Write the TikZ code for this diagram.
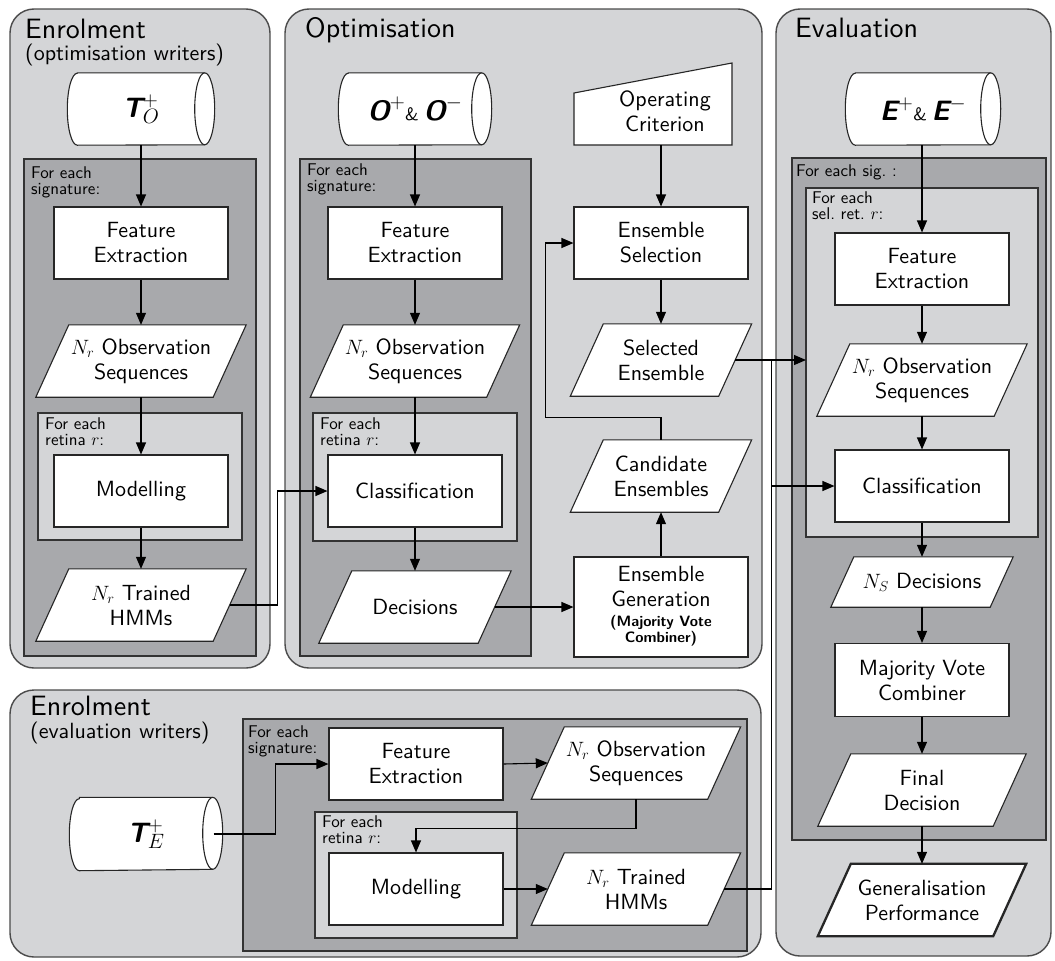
\documentclass[tikz,border=0pt]{standalone}
\usepackage{fontspec}
\setsansfont{lmsans10-regular.otf}[BoldFont=lmsans10-bold.otf, ItalicFont=lmsans10-oblique.otf, BoldItalicFont=lmsans10-boldoblique.otf]
\usetikzlibrary{arrows.meta,calc}
\definecolor{panelgray}{RGB}{212,213,215}
\definecolor{loopgray}{RGB}{168,169,172}
\definecolor{edgegray}{RGB}{75,75,75}
\pgfdeclarelayer{back}
\pgfsetlayers{back,main}
\begin{document}
\begin{tikzpicture}[x=1pt,y=1pt,
  font=\sffamily\fontsize{22}{25}\selectfont,
  stage/.style={rounded corners=24pt, fill=panelgray, draw=edgegray, line width=1.4pt},
  loopdark/.style={fill=loopgray, draw=black!80, line width=1.1pt},
  looplight/.style={fill=panelgray, draw=black!80, line width=1.1pt},
  proc/.style={draw=black!85, fill=white, line width=1.1pt, minimum height=72pt, minimum width=174pt, inner sep=0pt, align=center},
  datum/.style={minimum height=72pt, inner sep=0pt, align=center},
  paraline/.style={draw=black!85, fill=white, line width=1.1pt},
  cyl/.style={minimum height=72pt, inner sep=0pt, font=\sffamily\fontsize{28}{30}\selectfont},
  title/.style={font=\sffamily\fontsize{28}{30}\selectfont, anchor=base west, inner sep=0pt},
  subtitle/.style={font=\sffamily\fontsize{22}{25}\selectfont, anchor=base west, inner sep=0pt},
  looplabel/.style={font=\sffamily\fontsize{17}{16}\selectfont, anchor=north west, inner sep=0pt, align=left},
  flow/.style={line width=1.1pt, -{Triangle[length=12pt,width=10pt]}},
  plain/.style={line width=1.1pt},
]
\useasboundingbox (0,0) rectangle (1055,-961);

% ---------- stages and loops ----------
\begin{pgfonlayer}{back}
  % enrolment (optimisation writers)
  \path[stage] (10,-9) rectangle (270,-668);
  \path[loopdark] (24,-159) rectangle (256,-656);
  \path[looplight] (38,-413) rectangle (242,-540);
  % optimisation
  \path[stage] (285,-9) rectangle (762,-668);
  \path[loopdark] (300,-159) rectangle (531,-656);
  \path[looplight] (313,-413) rectangle (517,-541);
  % evaluation
  \path[stage] (776,-9) rectangle (1051,-956);
  \path[loopdark] (792,-158) rectangle (1046,-840);
  \path[looplight] (806,-188) rectangle (1038,-537);
  % enrolment (evaluation writers)
  \path[stage] (10,-690) rectangle (761,-957);
  \path[loopdark] (243,-719) rectangle (747,-951);
  \path[looplight] (315,-812) rectangle (517,-938);
\end{pgfonlayer}
\coordinate (retCnw) at (806,-188);

% ---------- titles ----------
\node[title] (tEnrA) at (25,-38) {Enrolment};
\node[subtitle] (sEnrA) at (25,-60) {(optimisation writers)};
\node[title] (tOpt) at (305,-37) {Optimisation};
\node[title] (tEval) at (795,-37) {Evaluation};
\node[title] (tEnrD) at (30,-715) {Enrolment};
\node[subtitle] (sEnrD) at (30,-738) {(evaluation writers)};

% ---------- loop labels ----------
\node[looplabel] (lsA) at (31,-166) {For each\\signature:};
\node[looplabel] (lrA) at (45,-417) {For each\\retina $r$:};
\node[looplabel] (lsB) at (307,-163) {For each\\signature:};
\node[looplabel] (lrB) at (320,-417) {For each\\retina $r$:};
\node[looplabel] (lsC) at (796,-164) {For each sig.~:};
\node[looplabel] (lrC) at (812,-191) {For each\\sel.~ret.~$r$:};
\node[looplabel] (lsD) at (248,-725) {For each\\signature:};
\node[looplabel] (lrD) at (322,-815) {For each\\retina $r$:};

% ---------- databases ----------
\node[cyl, minimum width=147pt] (cylA) at (141,-109) {$\mbox{\bfseries\itshape T}^{+}_{O}$};
\node[cyl, minimum width=153pt] (cylB) at (415,-109) {$\mbox{\bfseries\itshape O}^{+}$\mbox{\fontsize{18}{20}\selectfont\&}\,$\mbox{\bfseries\itshape O}^{-}$};
\node[cyl, minimum width=155pt] (cylC) at (923,-109) {$\mbox{\bfseries\itshape E}^{+}$\mbox{\fontsize{18}{20}\selectfont\&}\,$\mbox{\bfseries\itshape E}^{-}$};
\node[cyl, minimum width=153pt, minimum height=73pt] (cylD) at (146,-834) {$\mbox{\bfseries\itshape T}^{+}_{E}$};

% ---------- processes ----------
\node[proc] (feA) at (141,-243) {Feature\\Extraction};
\node[proc] (modA) at (141,-491) {Modelling};
\node[proc] (feB) at (415,-243) {Feature\\Extraction};
\node[proc] (clsB) at (415,-491) {Classification};
\node[proc] (selectB) at (661,-243) {Ensemble\\Selection};
\node[proc, minimum height=100pt] (genB) at (661,-607) {Ensemble\\Generation\\[3pt]{\fontsize{15}{16}\selectfont\bfseries\begin{tabular}{@{}c@{}}(Majority Vote\\Combiner)\end{tabular}}};
\node[proc] (feC) at (922,-269) {Feature\\Extraction};
\node[proc] (clsC) at (922,-486) {Classification};
\node[proc, minimum height=73pt] (majC) at (922,-680) {Majority Vote\\Combiner};
\node[proc] (feD) at (416,-764) {Feature\\Extraction};
\node[proc] (modD) at (416,-889) {Modelling};

% ---------- data ----------
\node[datum, minimum width=177pt] (obsA) at (141,-361) {$N_r$ Observation\\Sequences};
\node[datum, minimum width=177pt] (hmmA) at (141,-605) {$N_r$ Trained\\HMMs};
\node[datum, minimum width=176pt] (obsB) at (415,-361) {$N_r$ Observation\\Sequences};
\node[datum, minimum width=159pt] (decB) at (415,-607) {Decisions};
\node[datum, minimum width=148pt] (selB) at (661,-360) {Selected\\Ensemble};
\node[datum, minimum width=148pt] (candB) at (661,-476) {Candidate\\Ensembles};
\node[datum, minimum width=177pt] (obsC) at (922,-380) {$N_r$ Observation\\Sequences};
\node[datum, minimum width=159pt, minimum height=50pt] (nsC) at (922,-582) {$N_S$ Decisions};
\node[datum, minimum width=175pt] (finC) at (922,-790) {Final\\Decision};
\node[datum, minimum width=175pt] (genC) at (922,-900) {Generalisation\\Performance};
\node[datum, minimum width=176pt] (obsD) at (636,-763) {$N_r$ Observation\\Sequences};
\node[datum, minimum width=176pt] (hmmD) at (636,-889) {$N_r$ Trained\\HMMs};

\node[inner sep=0pt, align=center] (crit) at (665,-111) {Operating\\Criterion};
\coordinate (critbase) at (661,-145);

% ---------- outlines behind the texts ----------
\begin{pgfonlayer}{back}
  \foreach \n/\s in {obsA/33,hmmA/33,obsB/33,decB/33,selB/33,candB/33,obsC/33,nsC/23,finC/33,obsD/33,hmmD/33}{
    \draw[paraline] ($(\n.north west)+(\s/2,0)$) -- ($(\n.north east)+(\s/2,0)$)
      -- ($(\n.south east)-(\s/2,0)$) -- ($(\n.south west)-(\s/2,0)$) -- cycle;
  }
  \draw[paraline, line width=2.3pt] ($(genC.north west)+(16.5,0)$) -- ($(genC.north east)+(16.5,0)$)
      -- ($(genC.south east)-(16.5,0)$) -- ($(genC.south west)-(16.5,0)$) -- cycle;
  % manual input
  \draw[paraline] (574,-93) -- (732,-63) -- (732,-145) -- (574,-145) -- cycle;
  % databases
  \foreach \n in {cylA,cylB,cylC,cylD}{
    \draw[paraline] ($(\n.north west)+(10,0)$) -- ($(\n.north east)+(-10,0)$)
      arc[start angle=90, end angle=-90, x radius=10, y radius=36]
      -- ($(\n.south west)+(10,0)$)
      arc[start angle=270, end angle=90, x radius=10, y radius=36] -- cycle;
    \draw[line width=1.1pt, black!85] ($(\n.north east)+(-10,0)$)
      arc[start angle=90, end angle=270, x radius=10, y radius=36];
  }
\end{pgfonlayer}

% ---------- connectors ----------
% enrolment (optimisation writers)
\draw[flow] (cylA.south) -- (feA.north);
\draw[flow] (feA.south) -- (obsA.north);
\draw[flow] (obsA.south) -- (modA.north);
\draw[flow] (modA.south) -- (hmmA.north);
\draw[flow] (hmmA.east) -- ++(48,0) |- (clsB.west);
% optimisation
\draw[flow] (cylB.south) -- (feB.north);
\draw[flow] (feB.south) -- (obsB.north);
\draw[flow] (obsB.south) -- (clsB.north);
\draw[flow] (clsB.south) -- (decB.north);
\draw[flow] (decB.east) -- (genB.west);
\draw[flow] (genB.north) -- (candB.south);
\draw[flow] (candB.north) -- ++(0,22) -| ($(selectB.west)+(-28,0)$) -- (selectB.west);
\draw[flow] (critbase) -- (selectB.north);
\draw[flow] (selectB.south) -- (selB.north);
\coordinate (jn) at ($(selB.east)+(36,0)$);
\draw[flow] (selB.east) -- (selB.east -| retCnw);
\draw[plain] (jn) -- (jn |- clsC.west);
% evaluation
\draw[flow] (feC.north |- cylC.south) -- (feC.north);
\draw[flow] (feC.south) -- (obsC.north);
\draw[flow] (obsC.south) -- (clsC.north);
\draw[flow] (clsC.south) -- (nsC.north);
\draw[flow] (nsC.south) -- (majC.north);
\draw[flow] (majC.south) -- (finC.north);
\draw[flow] (finC.south) -- (genC.north);
% enrolment (evaluation writers)
\draw[flow] ($(cylD.east)+(-9,0)$) -| ($(feD.west)+(-53,0)$) -- (feD.west);
\draw[flow] (feD.east) -- (obsD.west);
\draw[flow] (obsD.south) -- ++(0,-29) -| (modD.north);
\draw[flow] (modD.east) -- (hmmD.west);
\draw[flow] (hmmD.east) -| (jn |- clsC.west) -- (clsC.west);
\end{tikzpicture}
\end{document}
